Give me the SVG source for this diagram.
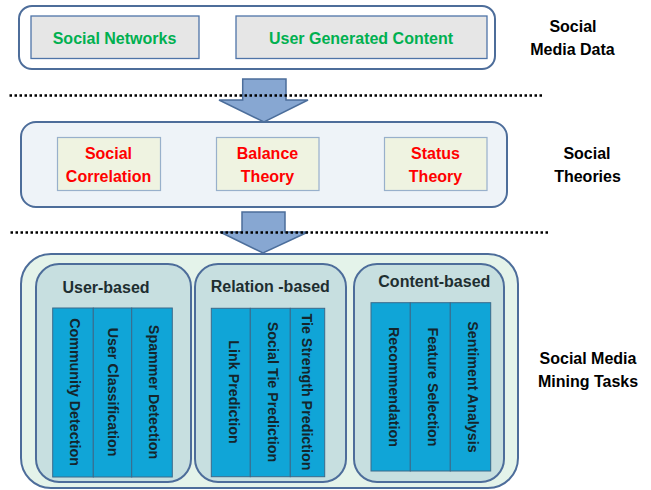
<svg xmlns="http://www.w3.org/2000/svg" width="651" height="490" viewBox="0 0 651 490">
<defs>
<style>
text { font-family: "Liberation Sans", Arial, sans-serif; font-weight: bold; text-anchor: middle; }
.frame { stroke: #4D6D9A; stroke-width: 2; }
.data { fill: #E6E6E6; stroke: #4F74A8; stroke-width: 1.3; }
.theory { fill: #EFF3E1; stroke: #98B0CB; stroke-width: 1.2; }
.group { fill: #C7DFE0; stroke: #4D6D9A; stroke-width: 2; }
.col { fill: #10A5D7; stroke: #3B6A8A; stroke-width: 1; }
.green { fill: #00B050; font-size: 16px; }
.red { fill: #FF0000; font-size: 16px; }
.label { fill: #000000; font-size: 16px; }
.head { fill: #1E2E30; font-size: 16px; }
.vt { fill: #14252C; font-size: 14.3px; }
.arrow { fill: #87A7D2; stroke: #4C6E9B; stroke-width: 1.5; stroke-linejoin: miter; }
.dots { stroke: #000000; stroke-width: 2.5; stroke-dasharray: 2.5 2.5; fill: none; }
</style>
</defs>
<rect width="651" height="490" fill="#FFFFFF"/>

<g id="social-media-data">
<rect x="19" y="6" width="476" height="63" rx="13" fill="#FFFFFF" class="frame"/>
<g id="social-networks">
<rect x="31" y="16" width="168" height="42.5" class="data"/>
<text x="114.5" y="44.3" class="green">Social Networks</text>
</g>
<g id="user-generated-content">
<rect x="236" y="16" width="251" height="42.5" class="data"/>
<text x="361" y="44.3" class="green">User Generated Content</text>
</g>
</g>

<g id="social-theories">
<rect x="21" y="122" width="486" height="85" rx="15" fill="#EEF3F8" class="frame"/>
<g id="social-correlation">
<rect x="57.5" y="137.5" width="103" height="53" class="theory"/>
<text x="108.5" y="159.3" class="red">Social</text>
<text x="108.5" y="182" class="red">Correlation</text>
</g>
<g id="balance-theory">
<rect x="216.5" y="137.5" width="102.5" height="53" class="theory"/>
<text x="267.5" y="159.3" class="red">Balance</text>
<text x="267.5" y="182" class="red">Theory</text>
</g>
<g id="status-theory">
<rect x="384.5" y="137.5" width="102.5" height="53" class="theory"/>
<text x="435.5" y="159.3" class="red">Status</text>
<text x="435.5" y="182" class="red">Theory</text>
</g>
</g>

<g id="mining-tasks">
<rect x="21" y="254" width="497" height="234" rx="30" fill="#E4F3EA" class="frame"/>
<g id="user-based">
<rect x="36" y="264" width="155" height="218" rx="23" class="group"/>
<text x="106" y="292.5" class="head">User-based</text>
<rect x="52.7" y="308" width="40.6" height="169" class="col"/>
<rect x="93.3" y="308" width="38.4" height="169" class="col"/>
<rect x="131.7" y="308" width="40.6" height="169" class="col"/>
<text transform="translate(69.5,392) rotate(90)" class="vt">Community Detection</text>
<text transform="translate(108,392) rotate(90)" class="vt">User Classification</text>
<text transform="translate(148.5,392) rotate(90)" class="vt">Spammer Detection</text>
</g>
<g id="relation-based">
<rect x="195" y="264" width="151" height="218" rx="23" class="group"/>
<text x="270.3" y="291.7" class="head">Relation -based</text>
<rect x="211.3" y="308.3" width="39" height="168.4" class="col"/>
<rect x="250.3" y="308.3" width="40" height="168.4" class="col"/>
<rect x="290.3" y="308.3" width="34.4" height="168.4" class="col"/>
<text transform="translate(228.5,392) rotate(90)" class="vt">Link Prediction</text>
<text transform="translate(268,392) rotate(90)" class="vt">Social Tie Prediction</text>
<text transform="translate(301.5,392) rotate(90)" class="vt">Tie Strength Prediction</text>
</g>
<g id="content-based">
<rect x="354" y="264" width="150" height="218" rx="23" class="group"/>
<text x="434.3" y="286.7" class="head">Content-based</text>
<rect x="371" y="302.7" width="39.3" height="168.3" class="col"/>
<rect x="410.3" y="302.7" width="40" height="168.3" class="col"/>
<rect x="450.3" y="302.7" width="40.4" height="168.3" class="col"/>
<text transform="translate(389,387) rotate(90)" class="vt">Recommendation</text>
<text transform="translate(428,387) rotate(90)" class="vt">Feature Selection</text>
<text transform="translate(468,387) rotate(90)" class="vt">Sentiment Analysis</text>
</g>
</g>

<g id="layer-labels">
<text x="573" y="32" class="label">Social</text>
<text x="572.5" y="55" class="label">Media Data</text>
<text x="587" y="159" class="label">Social</text>
<text x="587.5" y="181.7" class="label">Theories</text>
<text x="588" y="364.3" class="label">Social Media</text>
<text x="588" y="386.7" class="label">Mining Tasks</text>
</g>

<g id="connectors">
<path d="M242.7,79 L286,79 L286,100 L308,100 L264,122 L219,100 L242.7,100 Z" class="arrow"/>
<path d="M242,212 L285,212 L285,232 L308,232 L263,253 L220,232 L242,232 Z" class="arrow"/>
<line x1="9.5" y1="95.5" x2="542.5" y2="95.5" class="dots"/>
<line x1="10.5" y1="232.5" x2="549" y2="232.5" class="dots"/>
</g>
</svg>
